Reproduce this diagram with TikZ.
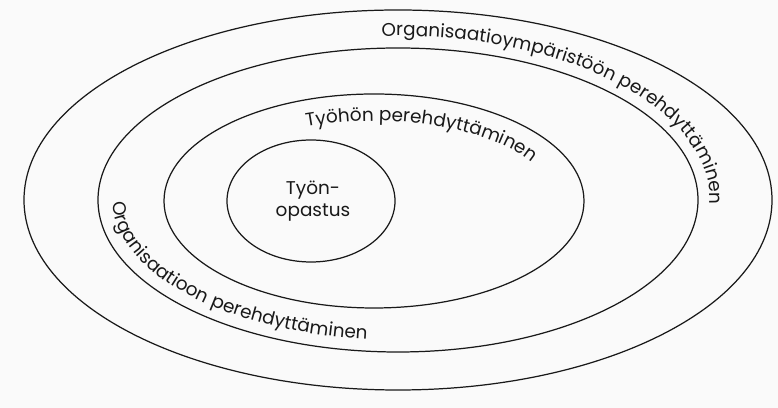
\documentclass[tikz,border=0pt]{standalone}
\usepackage{fontspec}
\setmainfont{Poppins}
\usepackage{tikz}
\usetikzlibrary{decorations.text}
\definecolor{ScanInk}{RGB}{25,25,25}
\definecolor{ScanPaper}{RGB}{250,250,250}
\newcommand{\ringfont}{\fontsize{10.5}{12.6}\selectfont}

\begin{document}
\begin{tikzpicture}[x=0.02cm,y=0.02cm,
  ring/.style={draw=ScanInk,line width=0.7pt},
  ringtext/.style={decorate,decoration={text along path,text={|\ringfont\color{ScanInk}|#1}}}]
  % Paper
  \fill[ScanPaper] (0,0) rectangle (778,408);
  \useasboundingbox (0,0) rectangle (778,408);

  % Rings, outside in
  \draw[ring] (398,208) ellipse [x radius=374,y radius=190];
  \draw[ring] (398,208) ellipse [x radius=300,y radius=152];
  \draw[ring] (374,207) ellipse [x radius=210,y radius=107];
  \draw[ring] (311,207) ellipse [x radius=84,y radius=61];

  % Centre
  \node[font=\ringfont,text=ScanInk,align=center] (opastus) at (313,207) {Työn-\\opastus};

  % Ring labels
  \path[shift={(398,208)},ringtext=Organisaatioympäristöön perehdyttäminen]
    (93:312 and 164) arc[start angle=93,end angle=-30,x radius=312,y radius=164];
  \path[shift={(374,207)},ringtext=Työhön perehdyttäminen]
    (112:180 and 80) arc[start angle=112,end angle=-20,x radius=180,y radius=80];
  \path[shift={(398,208)},ringtext=Organisaatioon perehdyttäminen]
    (181:285 and 140) arc[start angle=181,end angle=300,x radius=285,y radius=140];
\end{tikzpicture}
\end{document}
